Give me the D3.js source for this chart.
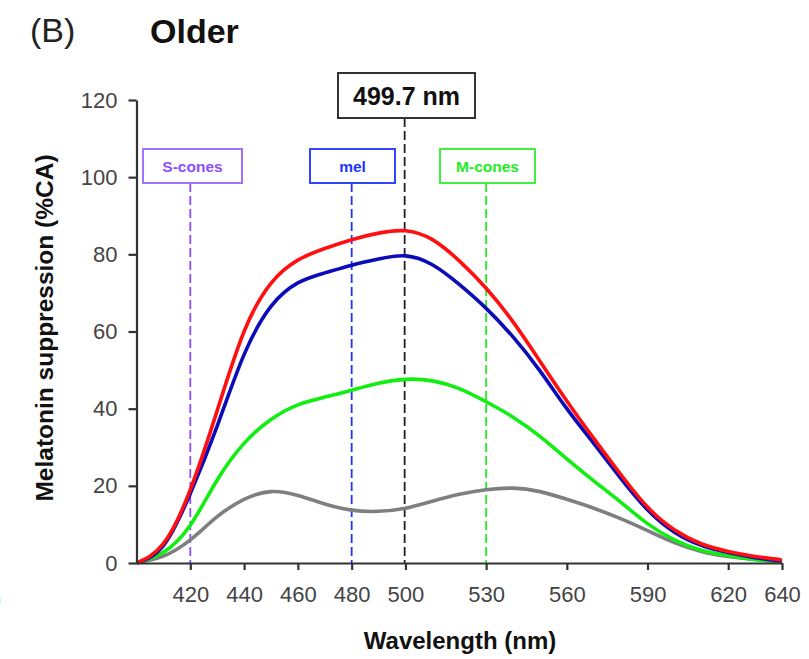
<!DOCTYPE html>
<html>
<head>
<meta charset="utf-8">
<script src="https://cdn.jsdelivr.net/npm/d3@7"></script>
<style>
  html, body { margin: 0; padding: 0; background: #fff; }
  svg { display: block; font-family: "Liberation Sans", Arial, sans-serif; }
</style>
</head>
<body>
<svg id="chart" width="809" height="659"></svg>
<script>
// ---- data ----
const wavelengths = [400,410,420,430,440,450,460,470,480,490,500,510,520,530,540,550,560,570,580,590,600,610,620,630,640];
const redSeries   = [0,5,19,39.5,60,72.5,78.5,81.5,83.8,85.5,86.1,83.8,78.3,71.2,62.5,52.3,42,32.3,23,14.5,8.6,5,3,1.7,0.8];
const blueSeries  = [0,4.5,18,35.5,54,66.5,72.6,75.2,77.2,78.8,79.6,77.3,72.2,66,58.6,49.8,40,31,22,13.8,8,4.6,2.7,1.4,0.5];
const greenSeries = [0,2.8,9.8,21.5,31,37.2,41,43,44.8,46.6,47.6,47.2,45.2,41.8,37.8,32.8,27,21.3,15.8,10.2,6,3.3,1.9,0.9,0.3];
const graySeries  = [0,1.8,6,12,16.5,18.5,17.5,15.3,13.7,13.4,14.2,16,17.8,19,19.4,18.5,16.5,14.2,11.5,8.4,5.3,3,1.7,0.9,0.3];
const xTicks = [420,440,460,480,500,530,560,590,620,640];
const yTicks = [0,20,40,60,80,100,120];
const markerNames = ["S-cones","mel","M-cones"];
const markerWavelengths = [420,480,530];
const peakWavelength = 499.7;
const peakLabel = "499.7 nm";

// ---- layout ----
const svg = d3.select("#chart");
const x = d3.scaleLinear().domain([400,640]).range([136.5,782]);
const y = d3.scaleLinear().domain([0,120]).range([563,100]);

// title
svg.append("text").attr("x",30).attr("y",42).attr("font-size",34).attr("fill","#222").text("(B)");
svg.append("text").attr("x",150).attr("y",43).attr("font-size",34).attr("font-weight","bold").attr("fill","#111").text("Older");
svg.append("text").attr("x",-6).attr("y",606).attr("font-size",22).attr("fill","#444").text(")");

// marker dashed lines and boxes
const markerColors = ["#8a4dff","#2233ff","#22ee22"];
const markerBorders = ["#a370ff","#3344ff","#44ee44"];
const boxes = [[143,242],[310,395],[440,535]];
markerNames.forEach((name,i)=>{
  svg.append("line")
    .attr("x1",x(markerWavelengths[i])).attr("x2",x(markerWavelengths[i]))
    .attr("y1",183).attr("y2",y(0))
    .attr("stroke",markerColors[i]).attr("stroke-width",1.8)
    .attr("stroke-dasharray","9,4");
  svg.append("rect")
    .attr("x",boxes[i][0]).attr("y",149)
    .attr("width",boxes[i][1]-boxes[i][0]).attr("height",34)
    .attr("fill","#fff").attr("stroke",markerBorders[i]).attr("stroke-width",2);
  svg.append("text")
    .attr("x",(boxes[i][0]+boxes[i][1])/2).attr("y",172)
    .attr("text-anchor","middle").attr("font-size",15.5).attr("font-weight","bold")
    .attr("fill",markerColors[i]).text(name);
});

// peak line and box
svg.append("line")
  .attr("x1",x(peakWavelength)).attr("x2",x(peakWavelength))
  .attr("y1",118).attr("y2",y(0))
  .attr("stroke","#222").attr("stroke-width",1.8).attr("stroke-dasharray","9,4");
svg.append("rect").attr("x",338).attr("y",73).attr("width",137).attr("height",45)
  .attr("fill","#fff").attr("stroke","#333").attr("stroke-width",2);
svg.append("text").attr("x",406.5).attr("y",105).attr("text-anchor","middle")
  .attr("font-size",25).attr("font-weight","bold").attr("fill","#111").text(peakLabel);

// curves
const line = d3.line().x((d,i)=>x(wavelengths[i])).y(d=>y(d)).curve(d3.curveNatural);
const series = [
  {v:graySeries, c:"#7f7f7f"},
  {v:greenSeries, c:"#11ee11"},
  {v:blueSeries, c:"#0b0bb8"},
  {v:redSeries, c:"#ff1010"}
];
svg.append("clipPath").attr("id","plotclip").append("rect")
  .attr("x",x(400)-2).attr("y",y(120)).attr("width",x(640)-x(400)+6).attr("height",y(0)-y(120)+2);
series.forEach(s=>{
  svg.append("path").attr("d",line(s.v)).attr("fill","none").attr("clip-path","url(#plotclip)")
    .attr("stroke",s.c).attr("stroke-width",3.6).attr("stroke-linejoin","round");
});

// axes
const yAxis = svg.append("g").attr("transform",`translate(${x(400)},0)`)
  .call(d3.axisLeft(y).tickValues(yTicks).tickSize(8).tickSizeOuter(0).tickPadding(11));
const xAxis = svg.append("g").attr("transform",`translate(0,${y(0)})`)
  .call(d3.axisBottom(x).tickValues(xTicks).tickSize(7).tickSizeOuter(0).tickPadding(16));
[yAxis,xAxis].forEach(g=>{
  g.select(".domain").attr("stroke","#333").attr("stroke-width",2.2);
  g.selectAll(".tick line").attr("stroke","#333").attr("stroke-width",2.2);
  g.selectAll(".tick text").attr("font-size",22).attr("fill","#444")
    .attr("font-family","'Liberation Sans', Arial, sans-serif");
});

// axis labels
svg.append("text").attr("transform","translate(53,328) rotate(-90)")
  .attr("text-anchor","middle").attr("font-size",24.5).attr("font-weight","bold").attr("fill","#111")
  .text("Melatonin suppression (%CA)");
svg.append("text").attr("x",460).attr("y",649).attr("text-anchor","middle")
  .attr("font-size",24).attr("font-weight","bold").attr("fill","#111")
  .text("Wavelength (nm)");
</script>
</body>
</html>
